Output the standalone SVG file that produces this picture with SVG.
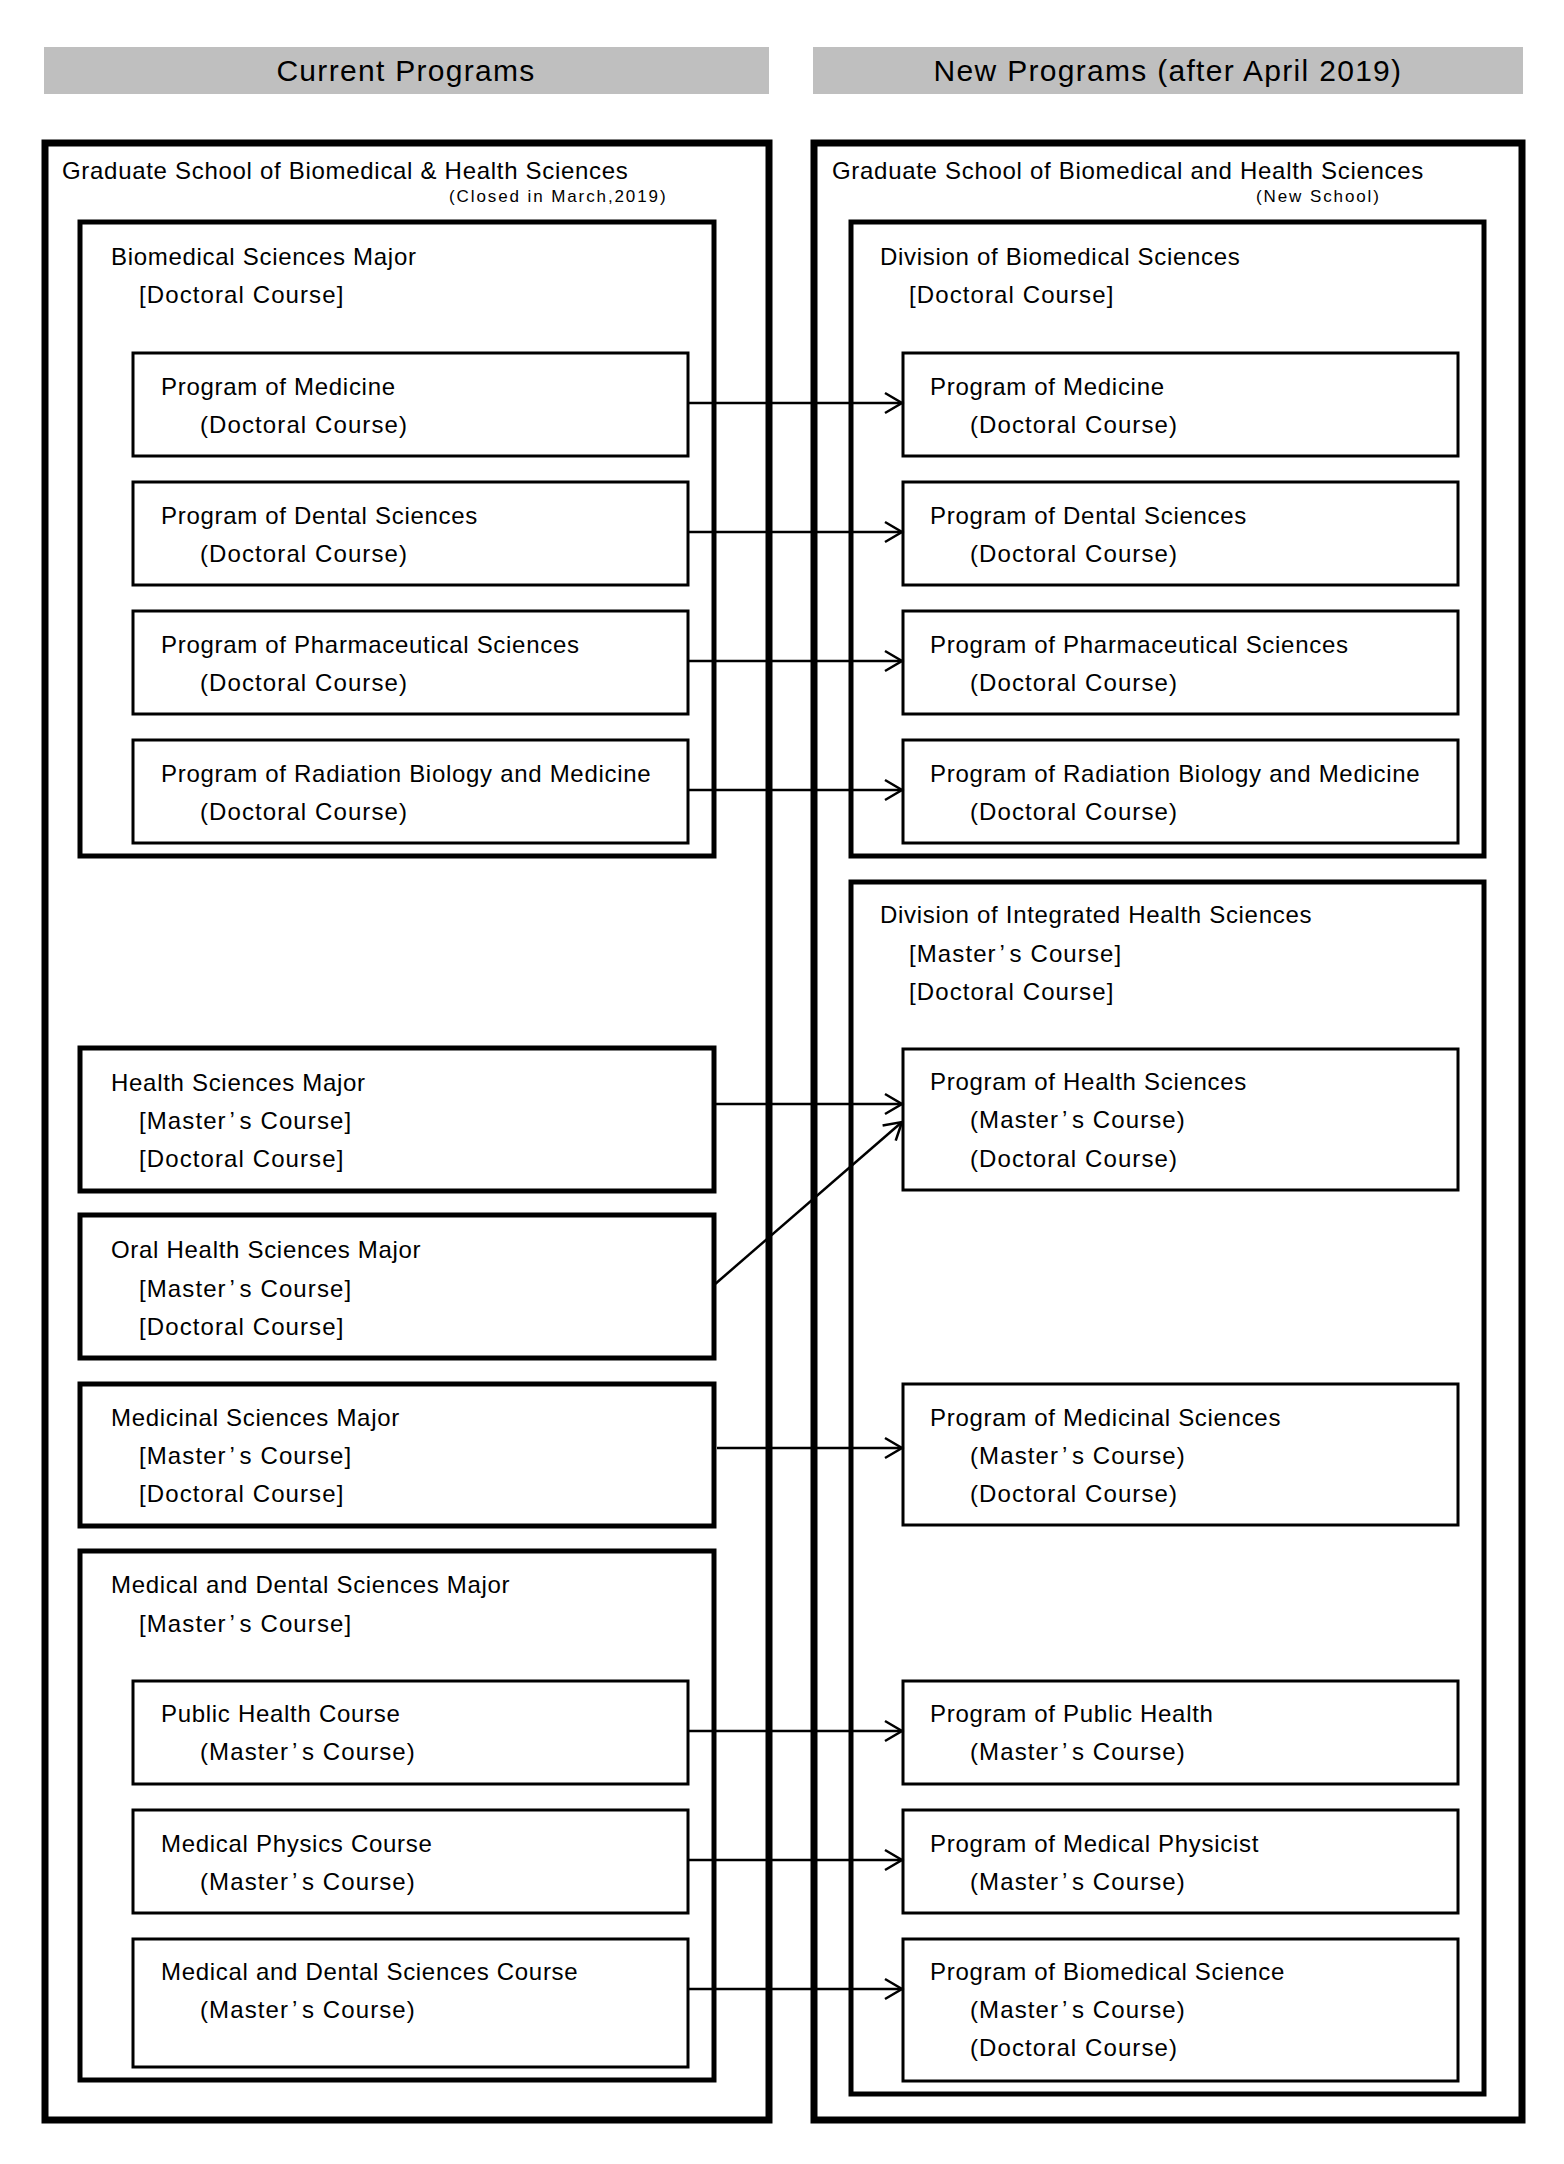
<svg xmlns="http://www.w3.org/2000/svg" width="1564" height="2164" viewBox="0 0 1564 2164">
<style>
text{font-family:"Liberation Sans","Noto Sans CJK JP",sans-serif;fill:#000;font-size:24px;letter-spacing:0.7px}
.hd{font-size:30px;text-anchor:middle;letter-spacing:1.3px}
.sm{font-size:17px;letter-spacing:1.9px}
.sub{letter-spacing:1.1px}
.outer{fill:none;stroke:#000;stroke-width:7}
.mid{fill:none;stroke:#000;stroke-width:5}
.inner{fill:#fff;stroke:#000;stroke-width:3}
.bar{fill:#bfbfbf}
.conn line{stroke:#000;stroke-width:2.5;fill:none}
</style>
<defs>
<marker id="arr" markerUnits="userSpaceOnUse" markerWidth="24" markerHeight="24" refX="20" refY="12" orient="auto" overflow="visible">
<path d="M3,2 L20,12 L3,22" fill="none" stroke="#000" stroke-width="2.5"/>
</marker>
</defs>
<rect width="1564" height="2164" fill="#fff"/>
<g id="head-current"><rect class="bar" x="44" y="47" width="725" height="47"/><text class="hd" x="406" y="81">Current Programs</text></g>
<g id="head-new"><rect class="bar" x="813" y="47" width="710" height="47"/><text class="hd" x="1168" y="81">New Programs (after April 2019)</text></g>

<g id="old-school"><rect class="outer" x="45" y="143" width="724" height="1977"/>
<text x="62" y="179">Graduate School of Biomedical &amp; Health Sciences</text>
<text class="sm" x="449" y="202">(Closed in March,2019)</text></g>

<g id="new-school"><rect class="outer" x="814" y="143" width="708" height="1977"/>
<text x="832" y="179">Graduate School of Biomedical and Health Sciences</text>
<text class="sm" x="1256" y="202">(New School)</text></g>

<g id="biomed-major"><rect class="mid" x="80" y="222" width="634" height="634"/>
<text x="111" y="265">Biomedical Sciences Major</text><text class="sub" x="139" y="303">[Doctoral Course]</text></g>
<g id="old-medicine"><rect class="inner" x="133" y="353" width="555" height="103"/><text x="161" y="395">Program of Medicine</text><text class="sub" x="200" y="433">(Doctoral Course)</text></g>
<g id="old-dental"><rect class="inner" x="133" y="482" width="555" height="103"/><text x="161" y="524">Program of Dental Sciences</text><text class="sub" x="200" y="562">(Doctoral Course)</text></g>
<g id="old-pharma"><rect class="inner" x="133" y="611" width="555" height="103"/><text x="161" y="653">Program of Pharmaceutical Sciences</text><text class="sub" x="200" y="691">(Doctoral Course)</text></g>
<g id="old-radiation"><rect class="inner" x="133" y="740" width="555" height="103"/><text x="161" y="782">Program of Radiation Biology and Medicine</text><text class="sub" x="200" y="820">(Doctoral Course)</text></g>

<g id="health-major"><rect class="mid" x="80" y="1048" width="634" height="143"/>
<text x="111" y="1091">Health Sciences Major</text><text class="sub" x="139" y="1129">[Master<tspan dx="2">’</tspan><tspan dx="4">s</tspan> Course]</text><text class="sub" x="139" y="1167">[Doctoral Course]</text></g>
<g id="oral-major"><rect class="mid" x="80" y="1215" width="634" height="143"/>
<text x="111" y="1258">Oral Health Sciences Major</text><text class="sub" x="139" y="1297">[Master<tspan dx="2">’</tspan><tspan dx="4">s</tspan> Course]</text><text class="sub" x="139" y="1335">[Doctoral Course]</text></g>
<g id="medicinal-major"><rect class="mid" x="80" y="1384" width="634" height="142"/>
<text x="111" y="1426">Medicinal Sciences Major</text><text class="sub" x="139" y="1464">[Master<tspan dx="2">’</tspan><tspan dx="4">s</tspan> Course]</text><text class="sub" x="139" y="1502">[Doctoral Course]</text></g>
<g id="meddent-major"><rect class="mid" x="80" y="1551" width="634" height="529"/>
<text x="111" y="1593">Medical and Dental Sciences Major</text><text class="sub" x="139" y="1632">[Master<tspan dx="2">’</tspan><tspan dx="4">s</tspan> Course]</text></g>
<g id="old-public"><rect class="inner" x="133" y="1681" width="555" height="103"/><text x="161" y="1722">Public Health Course</text><text class="sub" x="200" y="1760">(Master<tspan dx="2">’</tspan><tspan dx="4">s</tspan> Course)</text></g>
<g id="old-physics"><rect class="inner" x="133" y="1810" width="555" height="103"/><text x="161" y="1852">Medical Physics Course</text><text class="sub" x="200" y="1890">(Master<tspan dx="2">’</tspan><tspan dx="4">s</tspan> Course)</text></g>
<g id="old-meddent"><rect class="inner" x="133" y="1939" width="555" height="128"/><text x="161" y="1980">Medical and Dental Sciences Course</text><text class="sub" x="200" y="2018">(Master<tspan dx="2">’</tspan><tspan dx="4">s</tspan> Course)</text></g>

<g id="div-biomed"><rect class="mid" x="851" y="222" width="633" height="634"/>
<text x="880" y="265">Division of Biomedical Sciences</text><text class="sub" x="909" y="303">[Doctoral Course]</text></g>
<g id="new-medicine"><rect class="inner" x="903" y="353" width="555" height="103"/><text x="930" y="395">Program of Medicine</text><text class="sub" x="970" y="433">(Doctoral Course)</text></g>
<g id="new-dental"><rect class="inner" x="903" y="482" width="555" height="103"/><text x="930" y="524">Program of Dental Sciences</text><text class="sub" x="970" y="562">(Doctoral Course)</text></g>
<g id="new-pharma"><rect class="inner" x="903" y="611" width="555" height="103"/><text x="930" y="653">Program of Pharmaceutical Sciences</text><text class="sub" x="970" y="691">(Doctoral Course)</text></g>
<g id="new-radiation"><rect class="inner" x="903" y="740" width="555" height="103"/><text x="930" y="782">Program of Radiation Biology and Medicine</text><text class="sub" x="970" y="820">(Doctoral Course)</text></g>

<g id="div-integrated"><rect class="mid" x="851" y="882" width="633" height="1212"/>
<text x="880" y="923">Division of Integrated Health Sciences</text><text class="sub" x="909" y="962">[Master<tspan dx="2">’</tspan><tspan dx="4">s</tspan> Course]</text><text class="sub" x="909" y="1000">[Doctoral Course]</text></g>
<g id="new-health"><rect class="inner" x="903" y="1049" width="555" height="141"/><text x="930" y="1090">Program of Health Sciences</text><text class="sub" x="970" y="1128">(Master<tspan dx="2">’</tspan><tspan dx="4">s</tspan> Course)</text><text class="sub" x="970" y="1167">(Doctoral Course)</text></g>
<g id="new-medicinal"><rect class="inner" x="903" y="1384" width="555" height="141"/><text x="930" y="1426">Program of Medicinal Sciences</text><text class="sub" x="970" y="1464">(Master<tspan dx="2">’</tspan><tspan dx="4">s</tspan> Course)</text><text class="sub" x="970" y="1502">(Doctoral Course)</text></g>
<g id="new-public"><rect class="inner" x="903" y="1681" width="555" height="103"/><text x="930" y="1722">Program of Public Health</text><text class="sub" x="970" y="1760">(Master<tspan dx="2">’</tspan><tspan dx="4">s</tspan> Course)</text></g>
<g id="new-physicist"><rect class="inner" x="903" y="1810" width="555" height="103"/><text x="930" y="1852">Program of Medical Physicist</text><text class="sub" x="970" y="1890">(Master<tspan dx="2">’</tspan><tspan dx="4">s</tspan> Course)</text></g>
<g id="new-biomedsci"><rect class="inner" x="903" y="1939" width="555" height="142"/><text x="930" y="1980">Program of Biomedical Science</text><text class="sub" x="970" y="2018">(Master<tspan dx="2">’</tspan><tspan dx="4">s</tspan> Course)</text><text class="sub" x="970" y="2056">(Doctoral Course)</text></g>

<g id="connectors" class="conn">
<line x1="688" y1="403" x2="902" y2="403" marker-end="url(#arr)"/>
<line x1="688" y1="532" x2="902" y2="532" marker-end="url(#arr)"/>
<line x1="688" y1="661" x2="902" y2="661" marker-end="url(#arr)"/>
<line x1="688" y1="790" x2="902" y2="790" marker-end="url(#arr)"/>
<line x1="712" y1="1104" x2="902" y2="1104" marker-end="url(#arr)"/>
<line x1="714" y1="1285" x2="902" y2="1122" marker-end="url(#arr)"/>
<line x1="717" y1="1448" x2="902" y2="1448" marker-end="url(#arr)"/>
<line x1="688" y1="1731" x2="902" y2="1731" marker-end="url(#arr)"/>
<line x1="688" y1="1860" x2="902" y2="1860" marker-end="url(#arr)"/>
<line x1="688" y1="1989" x2="902" y2="1989" marker-end="url(#arr)"/>
</g>
</svg>
